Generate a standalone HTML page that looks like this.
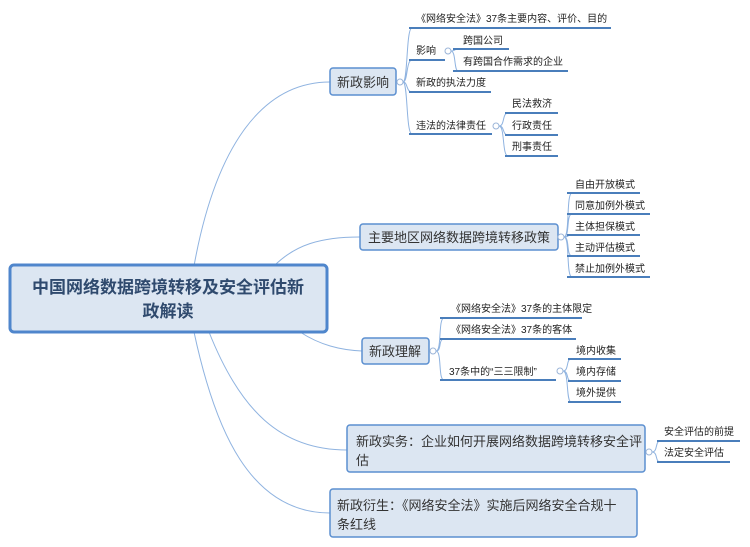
<!DOCTYPE html>
<html><head><meta charset="utf-8"><style>
html,body{margin:0;padding:0;background:#fff;}
svg{display:block;}
text{font-family:"Liberation Sans","Noto Sans CJK SC",sans-serif;fill:#222;}
.t{font-size:10px;}
.n{font-size:13px;fill:#333;}
.u{stroke:#4a7ebb;stroke-width:2;fill:none;}
.c{stroke:#8fb3e0;stroke-width:1;fill:none;}
.b{fill:#dce6f2;stroke:#5b8fd0;stroke-width:1.5;}
.o{fill:#fff;stroke:#9bb5d8;stroke-width:1;}
</style></head><body>
<svg width="750" height="547" viewBox="0 0 750 547" xmlns="http://www.w3.org/2000/svg">
<path class="c" d="M194,266 C215,150 260,82 330,82"/>
<path class="c" d="M274,266 C295,245 320,237 360,237"/>
<path class="c" d="M300,332 C320,345 340,350 362,351"/>
<path class="c" d="M209,332 C240,410 280,450 347,450"/>
<path class="c" d="M194,332 C215,430 250,513 330,513"/>

<rect x="10" y="265" width="317" height="67" rx="4" fill="#dce6f2" stroke="#4f86cc" stroke-width="3"/>
<text x="168" y="293" text-anchor="middle" style="font-size:17px;font-weight:bold;fill:#2f4a6e">中国网络数据跨境转移及安全评估新</text>
<text x="168" y="317" text-anchor="middle" style="font-size:17px;font-weight:bold;fill:#2f4a6e">政解读</text>

<rect class="b" x="330" y="68" width="66" height="27" rx="3"/>
<text class="n" x="337" y="87">新政影响</text>
<circle class="o" cx="400" cy="82" r="3"/>
<path class="c" d="M403,82 C408,82 406,28 412,28 M403,82 C408,82 406,60 412,60 M403,82 C408,82 406,92 412,92 M403,82 C408,82 406,134 412,134"/>
<line class="u" x1="409" y1="28" x2="611" y2="28"/><text class="t" x="416" y="22">《网络安全法》37条主要内容、评价、目的</text>
<line class="u" x1="409" y1="60" x2="445" y2="60"/><text class="t" x="416" y="54">影响</text>
<circle class="o" cx="448" cy="51" r="3"/>
<path class="c" d="M451,51 C456,51 454,49 458,49 M451,51 C456,51 454,71 458,71"/>
<line class="u" x1="453" y1="49" x2="509" y2="49"/><text class="t" x="463" y="44">跨国公司</text>
<line class="u" x1="453" y1="71" x2="568" y2="71"/><text class="t" x="463" y="65">有跨国合作需求的企业</text>
<line class="u" x1="409" y1="92" x2="491" y2="92"/><text class="t" x="416" y="86">新政的执法力度</text>
<line class="u" x1="409" y1="134" x2="492" y2="134"/><text class="t" x="416" y="129">违法的法律责任</text>
<circle class="o" cx="496" cy="126" r="3"/>
<path class="c" d="M499,126 C505,126 502,113 508,113 M499,126 C505,126 502,135 508,135 M499,126 C505,126 502,156 508,156"/>
<line class="u" x1="505" y1="113" x2="558" y2="113"/><text class="t" x="512" y="107">民法救济</text>
<line class="u" x1="505" y1="135" x2="558" y2="135"/><text class="t" x="512" y="129">行政责任</text>
<line class="u" x1="505" y1="156" x2="558" y2="156"/><text class="t" x="512" y="150">刑事责任</text>

<rect class="b" x="360" y="224" width="198" height="26" rx="3"/>
<text class="n" x="368" y="242">主要地区网络数据跨境转移政策</text>
<circle class="o" cx="561" cy="237" r="3"/>
<path class="c" d="M564,237 C570,237 566,193 572,193 M564,237 C570,237 566,214 572,214 M564,237 C570,237 566,235 572,235 M564,237 C570,237 566,256 572,256 M564,237 C570,237 566,277 572,277"/>
<line class="u" x1="567" y1="193" x2="640" y2="193"/><text class="t" x="575" y="188">自由开放模式</text>
<line class="u" x1="567" y1="214" x2="650" y2="214"/><text class="t" x="575" y="209">同意加例外模式</text>
<line class="u" x1="567" y1="235" x2="640" y2="235"/><text class="t" x="575" y="230">主体担保模式</text>
<line class="u" x1="567" y1="256" x2="640" y2="256"/><text class="t" x="575" y="251">主动评估模式</text>
<line class="u" x1="567" y1="277" x2="650" y2="277"/><text class="t" x="575" y="272">禁止加例外模式</text>

<rect class="b" x="362" y="338" width="67" height="26" rx="3"/>
<text class="n" x="369" y="356">新政理解</text>
<circle class="o" cx="433" cy="351" r="3"/>
<path class="c" d="M436,351 C442,351 438,318 444,318 M436,351 C442,351 438,339 444,339 M436,351 C442,351 438,380 444,380"/>
<line class="u" x1="440" y1="318" x2="582" y2="318"/><text class="t" x="451" y="312">《网络安全法》37条的主体限定</text>
<line class="u" x1="440" y1="339" x2="576" y2="339"/><text class="t" x="451" y="333">《网络安全法》37条的客体</text>
<line class="u" x1="440" y1="380" x2="556" y2="380"/><text class="t" x="449" y="375">37条中的“三三限制”</text>
<circle class="o" cx="560" cy="371" r="3"/>
<path class="c" d="M563,371 C569,371 566,359 571,359 M563,371 C569,371 566,381 571,381 M563,371 C569,371 566,402 571,402"/>
<line class="u" x1="568" y1="359" x2="621" y2="359"/><text class="t" x="576" y="354">境内收集</text>
<line class="u" x1="568" y1="381" x2="621" y2="381"/><text class="t" x="576" y="375">境内存储</text>
<line class="u" x1="568" y1="402" x2="621" y2="402"/><text class="t" x="576" y="396">境外提供</text>

<rect class="b" x="347" y="425" width="298" height="47" rx="3"/>
<text class="n" x="356" y="446">新政实务：企业如何开展网络数据跨境转移安全评</text>
<text class="n" x="356" y="465">估</text>
<circle class="o" cx="649" cy="452" r="3"/>
<path class="c" d="M652,452 C658,452 655,441 660,441 M652,452 C658,452 655,462 660,462"/>
<line class="u" x1="657" y1="441" x2="740" y2="441"/><text class="t" x="664" y="435">安全评估的前提</text>
<line class="u" x1="657" y1="462" x2="730" y2="462"/><text class="t" x="664" y="456">法定安全评估</text>

<rect class="b" x="330" y="489" width="307" height="48" rx="3"/>
<text class="n" x="337" y="510">新政衍生：《网络安全法》实施后网络安全合规十</text>
<text class="n" x="337" y="529">条红线</text>
</svg>
</body></html>
